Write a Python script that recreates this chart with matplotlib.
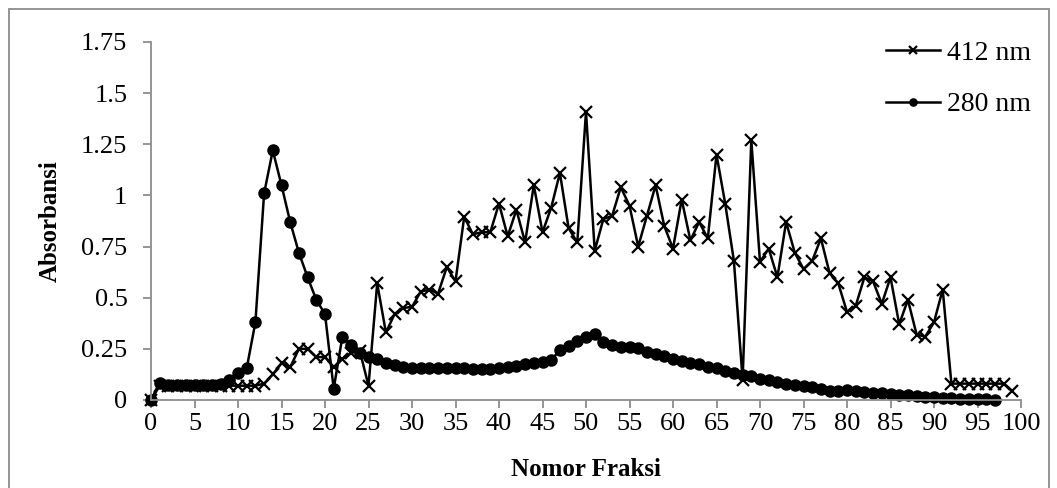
import matplotlib
matplotlib.use("Agg")
import matplotlib.pyplot as plt
from matplotlib.patches import Rectangle

plt.rcParams['font.family'] = ['Liberation Serif', 'DejaVu Serif']

# Nomor fraksi
fraksi_412 = list(range(0, 100))
fraksi_280 = list(range(0, 98))

# Absorbansi 412 nm
abs_412 = [
    0.0, 0.07, 0.07, 0.07, 0.07, 0.07, 0.07, 0.07, 0.07, 0.07,
    0.07, 0.07, 0.07, 0.08, 0.125, 0.18, 0.16, 0.25, 0.25, 0.21,
    0.21, 0.16, 0.2, 0.23, 0.24, 0.07, 0.57, 0.33, 0.42, 0.45,
    0.455, 0.53, 0.54, 0.52, 0.65, 0.58, 0.895, 0.81, 0.82, 0.82,
    0.96, 0.8, 0.93, 0.77, 1.05, 0.82, 0.94, 1.11, 0.84, 0.77,
    1.41, 0.73, 0.885, 0.9, 1.04, 0.95, 0.75, 0.9, 1.05, 0.85,
    0.74, 0.98, 0.78, 0.87, 0.79, 1.2, 0.96, 0.68, 0.1, 1.27,
    0.675, 0.74, 0.6, 0.87, 0.72, 0.64, 0.68, 0.79, 0.62, 0.57,
    0.43, 0.46, 0.6, 0.58, 0.47, 0.6, 0.37, 0.49, 0.32, 0.31,
    0.38, 0.54, 0.08, 0.08, 0.08, 0.08, 0.08, 0.08, 0.08, 0.044,
]

# Absorbansi 280 nm
abs_280 = [
    0.0, 0.085, 0.075, 0.072, 0.072, 0.072, 0.072, 0.072, 0.078, 0.1,
    0.13, 0.155, 0.38, 1.01, 1.22, 1.05, 0.87, 0.72, 0.6, 0.49,
    0.42, 0.055, 0.31, 0.27, 0.23, 0.21, 0.2, 0.18, 0.17, 0.16,
    0.158, 0.157, 0.156, 0.156, 0.156, 0.155, 0.155, 0.153, 0.152, 0.153,
    0.155, 0.16, 0.165, 0.175, 0.18, 0.185, 0.195, 0.245, 0.265, 0.29,
    0.31, 0.325, 0.285, 0.27, 0.26, 0.26, 0.255, 0.235, 0.225, 0.215,
    0.2, 0.19, 0.18, 0.175, 0.16, 0.155, 0.14, 0.13, 0.12, 0.115,
    0.105, 0.1, 0.09, 0.08, 0.075, 0.068, 0.062, 0.053, 0.045, 0.046,
    0.05, 0.045, 0.04, 0.036, 0.033, 0.03, 0.026, 0.023, 0.02, 0.017,
    0.014, 0.011, 0.008, 0.006, 0.005, 0.004, 0.003, 0.002,
]

x_ticks = list(range(0, 101, 5))
y_ticks = [0, 0.25, 0.5, 0.75, 1, 1.25, 1.5, 1.75]
y_tick_labels = ['0', '0.25', '0.5', '0.75', '1', '1.25', '1.5', '1.75']

fig = plt.figure(figsize=(10.57, 4.88), dpi=100)
ax = fig.add_axes([151 / 1057, 1 - 400 / 488, 870 / 1057, 358 / 488])

ax.plot(fraksi_412, abs_412, color='black', linewidth=1.8, marker='x',
        markersize=8.5, markeredgewidth=1.6, label='412 nm', clip_on=False)
ax.plot(fraksi_280, abs_280, color='black', linewidth=1.8, marker='o',
        markersize=8, label='280 nm', clip_on=False)

ax.set_xlim(0, 100)
ax.set_ylim(0, 1.75)
ax.set_xticks(x_ticks)
ax.set_yticks(y_ticks)
ax.set_yticklabels(y_tick_labels)

for side in ['top', 'right']:
    ax.spines[side].set_visible(False)
for side in ['left', 'bottom']:
    ax.spines[side].set_color('#8c8c8c')
    ax.spines[side].set_linewidth(1.3)
ax.tick_params(axis='both', which='major', direction='out', length=6,
               width=1.3, color='#8c8c8c', labelsize=19)
ax.tick_params(axis='y', pad=11)
ax.tick_params(axis='x', pad=3)

ax.set_xlabel('Nomor Fraksi', fontsize=18, fontweight='bold', labelpad=17)
ax.set_ylabel('Absorbansi', fontsize=18, fontweight='bold', labelpad=14)

leg = ax.legend(loc='upper right', bbox_to_anchor=(1.04, 1.075), frameon=False,
                fontsize=20, handlelength=1.95, handletextpad=0.25,
                labelspacing=0.95, markerscale=0.65)

# outer chart frame
fig.patches.append(Rectangle((9 / 1057, -0.05), 1040 / 1057, 1 - 9 / 488 + 0.05,
                             transform=fig.transFigure, fill=False,
                             edgecolor='#8c8c8c', linewidth=1.3))

fig.savefig('out.png', dpi=100)
